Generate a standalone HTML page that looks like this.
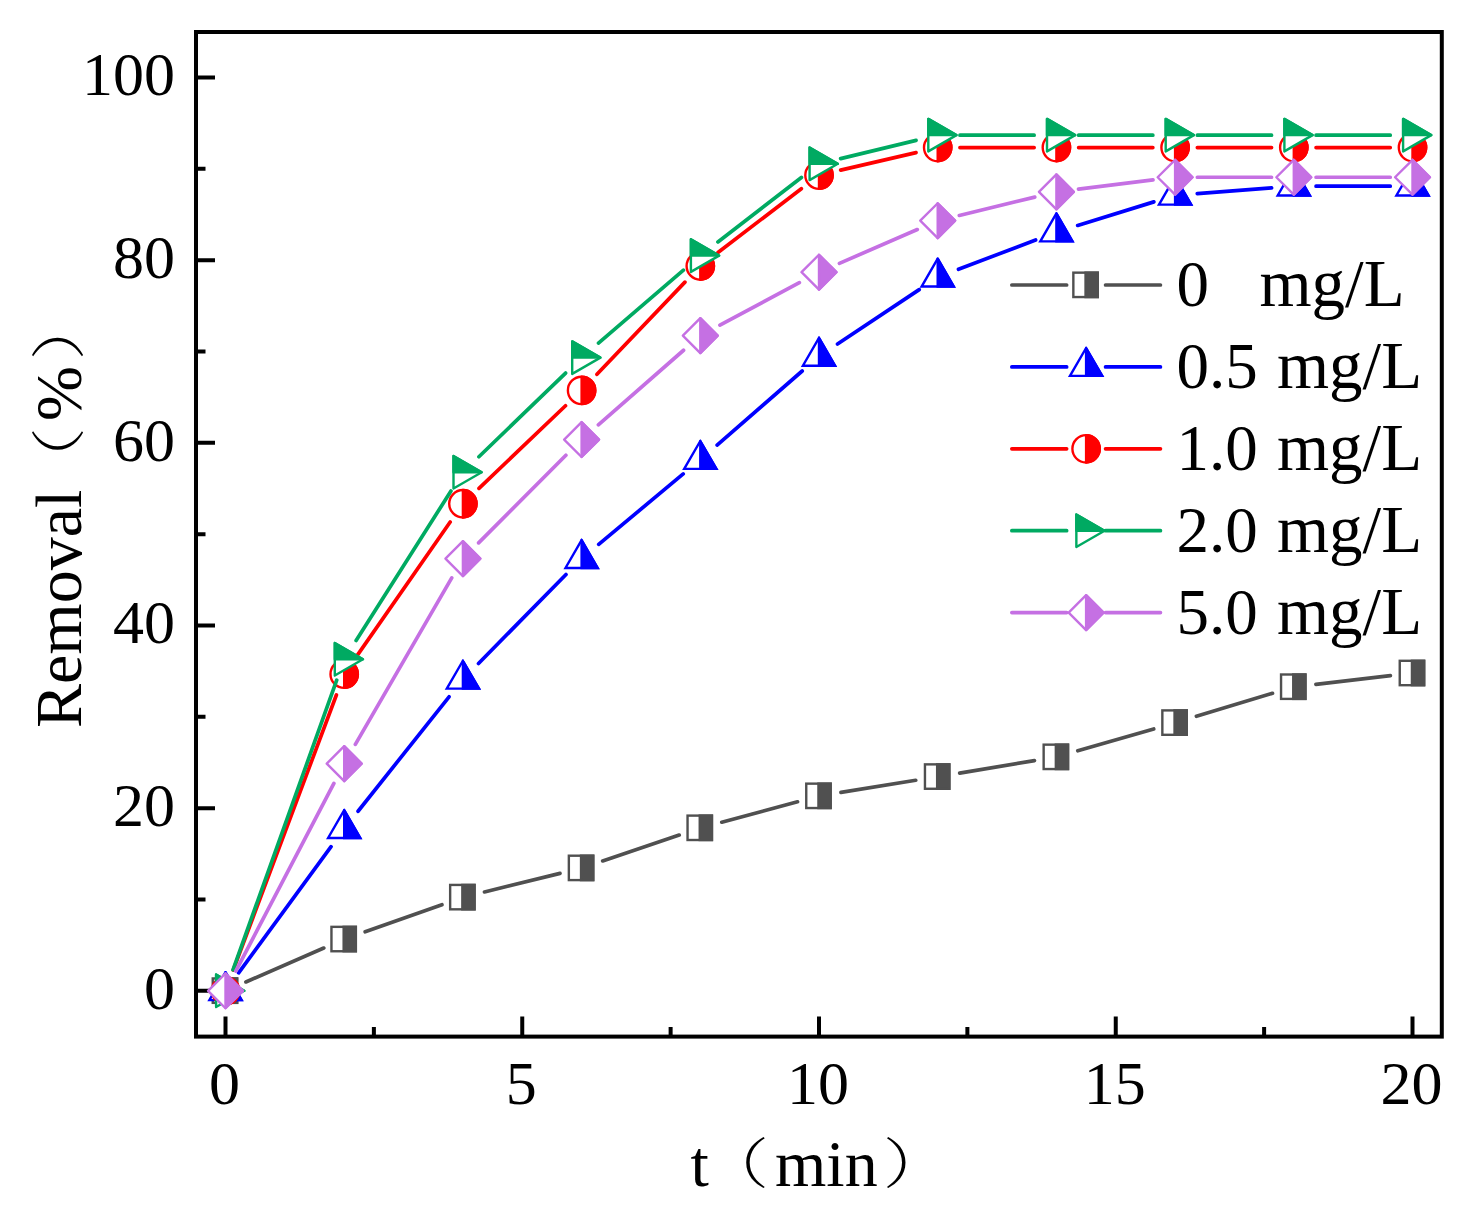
<!DOCTYPE html>
<html><head><meta charset="utf-8"><title>Removal vs t</title>
<style>
html,body{margin:0;padding:0;background:#fff}
svg{display:block}
text{font-family:"Liberation Serif","Noto Serif CJK SC",serif;fill:#000}
.tk{font-size:62px}
.ti{font-size:66px}
.lg{font-size:65px}
.lu{font-size:67px}
.pa{font-size:54.8px;font-family:"Liberation Serif","Noto Serif CJK SC",serif;font-weight:200}
</style></head><body>
<svg width="1479" height="1211" viewBox="0 0 1479 1211">
<rect width="1479" height="1211" fill="#fff"/>
<rect x="196" y="32" width="1245.8" height="1004.6" fill="none" stroke="#000" stroke-width="4"/>
<path d="M196 990.8h19M196 899.47h9.5M196 808.14h19M196 716.81h9.5M196 625.48h19M196 534.15h9.5M196 442.82h19M196 351.49h9.5M196 260.16h19M196 168.83h9.5M196 77.5h19M225.5 1036.6v-20M373.88 1036.6v-9.5M522.25 1036.6v-20M670.62 1036.6v-9.5M819 1036.6v-20M967.38 1036.6v-9.5M1115.75 1036.6v-20M1264.12 1036.6v-9.5M1412.5 1036.6v-20" stroke="#000" stroke-width="4" fill="none"/>
<text class="tk" x="175" y="1008.6" text-anchor="end">0</text>
<text class="tk" x="175" y="825.94" text-anchor="end">20</text>
<text class="tk" x="175" y="643.28" text-anchor="end">40</text>
<text class="tk" x="175" y="460.62" text-anchor="end">60</text>
<text class="tk" x="175" y="277.96" text-anchor="end">80</text>
<text class="tk" x="175" y="95.3" text-anchor="end">100</text>
<text class="tk" x="224.5" y="1104.4" text-anchor="middle">0</text>
<text class="tk" x="521.25" y="1104.4" text-anchor="middle">5</text>
<text class="tk" x="818" y="1104.4" text-anchor="middle">10</text>
<text class="tk" x="1114.75" y="1104.4" text-anchor="middle">15</text>
<text class="tk" x="1411.5" y="1104.4" text-anchor="middle">20</text>
<text class="ti" id="xtitle"><tspan x="690.5" y="1186">t</tspan><tspan class="pa" x="703" y="1183" textLength="66" lengthAdjust="spacingAndGlyphs">（</tspan><tspan x="775" y="1186">min</tspan><tspan class="pa" x="882.7" y="1183" textLength="66" lengthAdjust="spacingAndGlyphs">）</tspan></text>
<text class="ti" id="ytitle" transform="translate(80.5 728) rotate(-90)"><tspan x="0" y="0">Removal</tspan><tspan class="pa" x="235" y="-3" textLength="66" lengthAdjust="spacingAndGlyphs">（</tspan><tspan x="307" y="0">%</tspan><tspan class="pa" x="367.5" y="-3" textLength="66" lengthAdjust="spacingAndGlyphs">）</tspan></text>
<g id="gray"><path d="M245.91 981.93L323.79 948.07M365.18 931.79L441.92 904.69M484.5 891.96L560 873.37M602.68 860.93L679.22 835.08M721.78 822.17L797.52 801.78M840.96 792.43L915.74 780.29M959.65 773.07L1034.45 760.64M1077.78 750.83L1153.72 728.91M1196.4 716.31L1272.5 693.29M1315.9 684.3L1390.4 675.71" stroke="#505050" stroke-width="3.7" stroke-linecap="round" fill="none"/>
<rect x="212.75" y="978.45" width="24.4" height="24.4" fill="#fff" stroke="#505050" stroke-width="2.4"/>
<rect x="224.95" y="978.45" width="12.2" height="24.4" fill="#505050" stroke="#505050" stroke-width="2.4"/>
<rect x="331.45" y="926.85" width="24.4" height="24.4" fill="#fff" stroke="#505050" stroke-width="2.4"/>
<rect x="343.65" y="926.85" width="12.2" height="24.4" fill="#505050" stroke="#505050" stroke-width="2.4"/>
<rect x="450.15" y="884.93" width="24.4" height="24.4" fill="#fff" stroke="#505050" stroke-width="2.4"/>
<rect x="462.35" y="884.93" width="12.2" height="24.4" fill="#505050" stroke="#505050" stroke-width="2.4"/>
<rect x="568.85" y="855.7" width="24.4" height="24.4" fill="#fff" stroke="#505050" stroke-width="2.4"/>
<rect x="581.05" y="855.7" width="12.2" height="24.4" fill="#505050" stroke="#505050" stroke-width="2.4"/>
<rect x="687.55" y="815.61" width="24.4" height="24.4" fill="#fff" stroke="#505050" stroke-width="2.4"/>
<rect x="699.75" y="815.61" width="12.2" height="24.4" fill="#505050" stroke="#505050" stroke-width="2.4"/>
<rect x="806.25" y="783.64" width="24.4" height="24.4" fill="#fff" stroke="#505050" stroke-width="2.4"/>
<rect x="818.45" y="783.64" width="12.2" height="24.4" fill="#505050" stroke="#505050" stroke-width="2.4"/>
<rect x="924.95" y="764.37" width="24.4" height="24.4" fill="#fff" stroke="#505050" stroke-width="2.4"/>
<rect x="937.15" y="764.37" width="12.2" height="24.4" fill="#505050" stroke="#505050" stroke-width="2.4"/>
<rect x="1043.65" y="744.65" width="24.4" height="24.4" fill="#fff" stroke="#505050" stroke-width="2.4"/>
<rect x="1055.85" y="744.65" width="12.2" height="24.4" fill="#505050" stroke="#505050" stroke-width="2.4"/>
<rect x="1162.35" y="710.4" width="24.4" height="24.4" fill="#fff" stroke="#505050" stroke-width="2.4"/>
<rect x="1174.55" y="710.4" width="12.2" height="24.4" fill="#505050" stroke="#505050" stroke-width="2.4"/>
<rect x="1281.05" y="674.5" width="24.4" height="24.4" fill="#fff" stroke="#505050" stroke-width="2.4"/>
<rect x="1293.25" y="674.5" width="12.2" height="24.4" fill="#505050" stroke="#505050" stroke-width="2.4"/>
<rect x="1399.75" y="660.8" width="24.4" height="24.4" fill="#fff" stroke="#505050" stroke-width="2.4"/>
<rect x="1411.95" y="660.8" width="12.2" height="24.4" fill="#505050" stroke="#505050" stroke-width="2.4"/>
</g>
<g id="blue"><path d="M238.64 972.85L331.06 846.64M358.05 811.27L449.05 696.78M478.5 663.5L566 574.49M598.69 544.38L683.21 473.88M717.09 445.03L802.21 371.02M837.51 344.07L919.19 289.59M958.49 269.32L1035.61 239.95M1077.66 225.46L1153.84 201.89M1197.28 193.61L1271.62 187.89M1316.05 186.18L1390.25 186.18" stroke="#0000ff" stroke-width="3.7" stroke-linecap="round" fill="none"/>
<path d="M225.5 972.2L241.61 1000.1L209.39 1000.1L225.5 972.2" fill="#fff" stroke="#0000ff" stroke-width="2.4" stroke-linejoin="miter" stroke-linecap="round"/>
<path d="M225.5 972.2L241.61 1000.1L225.5 1000.1L225.5 972.2" fill="#0000ff" stroke="#0000ff" stroke-width="2.4" stroke-linejoin="miter" stroke-linecap="round"/>
<path d="M344.2 810.09L360.31 837.99L328.09 837.99L344.2 810.09" fill="#fff" stroke="#0000ff" stroke-width="2.4" stroke-linejoin="miter" stroke-linecap="round"/>
<path d="M344.2 810.09L360.31 837.99L344.2 837.99L344.2 810.09" fill="#0000ff" stroke="#0000ff" stroke-width="2.4" stroke-linejoin="miter" stroke-linecap="round"/>
<path d="M462.9 660.76L479.01 688.66L446.79 688.66L462.9 660.76" fill="#fff" stroke="#0000ff" stroke-width="2.4" stroke-linejoin="miter" stroke-linecap="round"/>
<path d="M462.9 660.76L479.01 688.66L462.9 688.66L462.9 660.76" fill="#0000ff" stroke="#0000ff" stroke-width="2.4" stroke-linejoin="miter" stroke-linecap="round"/>
<path d="M581.6 540.03L597.71 567.93L565.49 567.93L581.6 540.03" fill="#fff" stroke="#0000ff" stroke-width="2.4" stroke-linejoin="miter" stroke-linecap="round"/>
<path d="M581.6 540.03L597.71 567.93L581.6 567.93L581.6 540.03" fill="#0000ff" stroke="#0000ff" stroke-width="2.4" stroke-linejoin="miter" stroke-linecap="round"/>
<path d="M700.3 441.02L716.41 468.92L684.19 468.92L700.3 441.02" fill="#fff" stroke="#0000ff" stroke-width="2.4" stroke-linejoin="miter" stroke-linecap="round"/>
<path d="M700.3 441.02L716.41 468.92L700.3 468.92L700.3 441.02" fill="#0000ff" stroke="#0000ff" stroke-width="2.4" stroke-linejoin="miter" stroke-linecap="round"/>
<path d="M819 337.82L835.11 365.72L802.89 365.72L819 337.82" fill="#fff" stroke="#0000ff" stroke-width="2.4" stroke-linejoin="miter" stroke-linecap="round"/>
<path d="M819 337.82L835.11 365.72L819 365.72L819 337.82" fill="#0000ff" stroke="#0000ff" stroke-width="2.4" stroke-linejoin="miter" stroke-linecap="round"/>
<path d="M937.7 258.64L953.81 286.54L921.59 286.54L937.7 258.64" fill="#fff" stroke="#0000ff" stroke-width="2.4" stroke-linejoin="miter" stroke-linecap="round"/>
<path d="M937.7 258.64L953.81 286.54L937.7 286.54L937.7 258.64" fill="#0000ff" stroke="#0000ff" stroke-width="2.4" stroke-linejoin="miter" stroke-linecap="round"/>
<path d="M1056.4 213.43L1072.51 241.33L1040.29 241.33L1056.4 213.43" fill="#fff" stroke="#0000ff" stroke-width="2.4" stroke-linejoin="miter" stroke-linecap="round"/>
<path d="M1056.4 213.43L1072.51 241.33L1056.4 241.33L1056.4 213.43" fill="#0000ff" stroke="#0000ff" stroke-width="2.4" stroke-linejoin="miter" stroke-linecap="round"/>
<path d="M1175.1 176.72L1191.21 204.62L1158.99 204.62L1175.1 176.72" fill="#fff" stroke="#0000ff" stroke-width="2.4" stroke-linejoin="miter" stroke-linecap="round"/>
<path d="M1175.1 176.72L1191.21 204.62L1175.1 204.62L1175.1 176.72" fill="#0000ff" stroke="#0000ff" stroke-width="2.4" stroke-linejoin="miter" stroke-linecap="round"/>
<path d="M1293.8 167.58L1309.91 195.48L1277.69 195.48L1293.8 167.58" fill="#fff" stroke="#0000ff" stroke-width="2.4" stroke-linejoin="miter" stroke-linecap="round"/>
<path d="M1293.8 167.58L1309.91 195.48L1293.8 195.48L1293.8 167.58" fill="#0000ff" stroke="#0000ff" stroke-width="2.4" stroke-linejoin="miter" stroke-linecap="round"/>
<path d="M1412.5 167.58L1428.61 195.48L1396.39 195.48L1412.5 167.58" fill="#fff" stroke="#0000ff" stroke-width="2.4" stroke-linejoin="miter" stroke-linecap="round"/>
<path d="M1412.5 167.58L1428.61 195.48L1412.5 195.48L1412.5 167.58" fill="#0000ff" stroke="#0000ff" stroke-width="2.4" stroke-linejoin="miter" stroke-linecap="round"/>
</g>
<g id="red"><path d="M233.31 969.97L336.39 694.99M356.92 655.9L450.18 521.99M478.99 488.37L565.51 405.76M596.96 374.3L684.94 282.1M717.97 252.49L801.33 188.74M840.67 170.17L916.03 152.6M959.95 147.55L1034.15 147.55M1078.65 147.55L1152.85 147.55M1197.35 147.55L1271.55 147.55M1316.05 147.55L1390.25 147.55" stroke="#ff0000" stroke-width="3.7" stroke-linecap="round" fill="none"/>
<circle cx="225.5" cy="990.8" r="13.7" fill="#fff" stroke="#ff0000" stroke-width="2.4"/>
<path d="M225.5 977.1A13.7 13.7 0 0 1 225.5 1004.5Z" fill="#ff0000" stroke="#ff0000" stroke-width="2.4" stroke-linejoin="round"/>
<circle cx="344.2" cy="674.16" r="13.7" fill="#fff" stroke="#ff0000" stroke-width="2.4"/>
<path d="M344.2 660.46A13.7 13.7 0 0 1 344.2 687.86Z" fill="#ff0000" stroke="#ff0000" stroke-width="2.4" stroke-linejoin="round"/>
<circle cx="462.9" cy="503.74" r="13.7" fill="#fff" stroke="#ff0000" stroke-width="2.4"/>
<path d="M462.9 490.04A13.7 13.7 0 0 1 462.9 517.44Z" fill="#ff0000" stroke="#ff0000" stroke-width="2.4" stroke-linejoin="round"/>
<circle cx="581.6" cy="390.4" r="13.7" fill="#fff" stroke="#ff0000" stroke-width="2.4"/>
<path d="M581.6 376.7A13.7 13.7 0 0 1 581.6 404.1Z" fill="#ff0000" stroke="#ff0000" stroke-width="2.4" stroke-linejoin="round"/>
<circle cx="700.3" cy="266.01" r="13.7" fill="#fff" stroke="#ff0000" stroke-width="2.4"/>
<path d="M700.3 252.31A13.7 13.7 0 0 1 700.3 279.71Z" fill="#ff0000" stroke="#ff0000" stroke-width="2.4" stroke-linejoin="round"/>
<circle cx="819" cy="175.22" r="13.7" fill="#fff" stroke="#ff0000" stroke-width="2.4"/>
<path d="M819 161.52A13.7 13.7 0 0 1 819 188.92Z" fill="#ff0000" stroke="#ff0000" stroke-width="2.4" stroke-linejoin="round"/>
<circle cx="937.7" cy="147.55" r="13.7" fill="#fff" stroke="#ff0000" stroke-width="2.4"/>
<path d="M937.7 133.85A13.7 13.7 0 0 1 937.7 161.25Z" fill="#ff0000" stroke="#ff0000" stroke-width="2.4" stroke-linejoin="round"/>
<circle cx="1056.4" cy="147.55" r="13.7" fill="#fff" stroke="#ff0000" stroke-width="2.4"/>
<path d="M1056.4 133.85A13.7 13.7 0 0 1 1056.4 161.25Z" fill="#ff0000" stroke="#ff0000" stroke-width="2.4" stroke-linejoin="round"/>
<circle cx="1175.1" cy="147.55" r="13.7" fill="#fff" stroke="#ff0000" stroke-width="2.4"/>
<path d="M1175.1 133.85A13.7 13.7 0 0 1 1175.1 161.25Z" fill="#ff0000" stroke="#ff0000" stroke-width="2.4" stroke-linejoin="round"/>
<circle cx="1293.8" cy="147.55" r="13.7" fill="#fff" stroke="#ff0000" stroke-width="2.4"/>
<path d="M1293.8 133.85A13.7 13.7 0 0 1 1293.8 161.25Z" fill="#ff0000" stroke="#ff0000" stroke-width="2.4" stroke-linejoin="round"/>
<circle cx="1412.5" cy="147.55" r="13.7" fill="#fff" stroke="#ff0000" stroke-width="2.4"/>
<path d="M1412.5 133.85A13.7 13.7 0 0 1 1412.5 161.25Z" fill="#ff0000" stroke="#ff0000" stroke-width="2.4" stroke-linejoin="round"/>
</g>
<g id="green"><path d="M233 969.85L336.7 680.22M356.12 640.49L450.98 491.01M478.91 456.77L565.59 373.06M598.47 343.11L683.43 270.1M717.9 241.98L801.4 177.42M840.63 158.58L916.07 140.35M959.95 135.13L1034.15 135.13M1078.65 135.13L1152.85 135.13M1197.35 135.13L1271.55 135.13M1316.05 135.13L1390.25 135.13" stroke="#00aa62" stroke-width="3.7" stroke-linecap="round" fill="none"/>
<path d="M244.3 990.8L216.1 1007.08L216.1 974.52Z" fill="#fff" stroke="#00aa62" stroke-width="2.4" stroke-linejoin="round"/>
<path d="M244.3 990.8L216.1 990.8L216.1 974.52Z" fill="#00aa62" stroke="#00aa62" stroke-width="2.4" stroke-linejoin="round"/>
<path d="M363 659.27L334.8 675.55L334.8 642.99Z" fill="#fff" stroke="#00aa62" stroke-width="2.4" stroke-linejoin="round"/>
<path d="M363 659.27L334.8 659.27L334.8 642.99Z" fill="#00aa62" stroke="#00aa62" stroke-width="2.4" stroke-linejoin="round"/>
<path d="M481.7 472.23L453.5 488.51L453.5 455.95Z" fill="#fff" stroke="#00aa62" stroke-width="2.4" stroke-linejoin="round"/>
<path d="M481.7 472.23L453.5 472.23L453.5 455.95Z" fill="#00aa62" stroke="#00aa62" stroke-width="2.4" stroke-linejoin="round"/>
<path d="M600.4 357.61L572.2 373.89L572.2 341.33Z" fill="#fff" stroke="#00aa62" stroke-width="2.4" stroke-linejoin="round"/>
<path d="M600.4 357.61L572.2 357.61L572.2 341.33Z" fill="#00aa62" stroke="#00aa62" stroke-width="2.4" stroke-linejoin="round"/>
<path d="M719.1 255.59L690.9 271.87L690.9 239.31Z" fill="#fff" stroke="#00aa62" stroke-width="2.4" stroke-linejoin="round"/>
<path d="M719.1 255.59L690.9 255.59L690.9 239.31Z" fill="#00aa62" stroke="#00aa62" stroke-width="2.4" stroke-linejoin="round"/>
<path d="M837.8 163.81L809.6 180.09L809.6 147.53Z" fill="#fff" stroke="#00aa62" stroke-width="2.4" stroke-linejoin="round"/>
<path d="M837.8 163.81L809.6 163.81L809.6 147.53Z" fill="#00aa62" stroke="#00aa62" stroke-width="2.4" stroke-linejoin="round"/>
<path d="M956.5 135.13L928.3 151.41L928.3 118.85Z" fill="#fff" stroke="#00aa62" stroke-width="2.4" stroke-linejoin="round"/>
<path d="M956.5 135.13L928.3 135.13L928.3 118.85Z" fill="#00aa62" stroke="#00aa62" stroke-width="2.4" stroke-linejoin="round"/>
<path d="M1075.2 135.13L1047 151.41L1047 118.85Z" fill="#fff" stroke="#00aa62" stroke-width="2.4" stroke-linejoin="round"/>
<path d="M1075.2 135.13L1047 135.13L1047 118.85Z" fill="#00aa62" stroke="#00aa62" stroke-width="2.4" stroke-linejoin="round"/>
<path d="M1193.9 135.13L1165.7 151.41L1165.7 118.85Z" fill="#fff" stroke="#00aa62" stroke-width="2.4" stroke-linejoin="round"/>
<path d="M1193.9 135.13L1165.7 135.13L1165.7 118.85Z" fill="#00aa62" stroke="#00aa62" stroke-width="2.4" stroke-linejoin="round"/>
<path d="M1312.6 135.13L1284.4 151.41L1284.4 118.85Z" fill="#fff" stroke="#00aa62" stroke-width="2.4" stroke-linejoin="round"/>
<path d="M1312.6 135.13L1284.4 135.13L1284.4 118.85Z" fill="#00aa62" stroke="#00aa62" stroke-width="2.4" stroke-linejoin="round"/>
<path d="M1431.3 135.13L1403.1 151.41L1403.1 118.85Z" fill="#fff" stroke="#00aa62" stroke-width="2.4" stroke-linejoin="round"/>
<path d="M1431.3 135.13L1403.1 135.13L1403.1 118.85Z" fill="#00aa62" stroke="#00aa62" stroke-width="2.4" stroke-linejoin="round"/>
</g>
<g id="purple"><path d="M235.81 971.08L333.89 783.38M355.35 744.41L451.75 577.88M478.61 542.87L565.89 455.29M598.34 424.87L683.56 350.26M719.93 325.12L799.37 282.7M839.41 263.36L917.29 229.56M959.32 215.45L1034.78 197.1M1078.48 189.13L1153.02 179.95M1197.35 177.23L1271.55 177.23M1316.05 177.23L1390.25 177.23" stroke="#c570e3" stroke-width="3.7" stroke-linecap="round" fill="none"/>
<path d="M225.5 973.35L242.95 990.8L225.5 1008.25L208.05 990.8Z" fill="#fff" stroke="#c570e3" stroke-width="2.4" stroke-linejoin="round"/>
<path d="M225.5 973.35L242.95 990.8L225.5 1008.25Z" fill="#c570e3" stroke="#c570e3" stroke-width="2.4" stroke-linejoin="round"/>
<path d="M344.2 746.21L361.65 763.66L344.2 781.11L326.75 763.66Z" fill="#fff" stroke="#c570e3" stroke-width="2.4" stroke-linejoin="round"/>
<path d="M344.2 746.21L361.65 763.66L344.2 781.11Z" fill="#c570e3" stroke="#c570e3" stroke-width="2.4" stroke-linejoin="round"/>
<path d="M462.9 541.18L480.35 558.63L462.9 576.08L445.45 558.63Z" fill="#fff" stroke="#c570e3" stroke-width="2.4" stroke-linejoin="round"/>
<path d="M462.9 541.18L480.35 558.63L462.9 576.08Z" fill="#c570e3" stroke="#c570e3" stroke-width="2.4" stroke-linejoin="round"/>
<path d="M581.6 422.08L599.05 439.53L581.6 456.98L564.15 439.53Z" fill="#fff" stroke="#c570e3" stroke-width="2.4" stroke-linejoin="round"/>
<path d="M581.6 422.08L599.05 439.53L581.6 456.98Z" fill="#c570e3" stroke="#c570e3" stroke-width="2.4" stroke-linejoin="round"/>
<path d="M700.3 318.15L717.75 335.6L700.3 353.05L682.85 335.6Z" fill="#fff" stroke="#c570e3" stroke-width="2.4" stroke-linejoin="round"/>
<path d="M700.3 318.15L717.75 335.6L700.3 353.05Z" fill="#c570e3" stroke="#c570e3" stroke-width="2.4" stroke-linejoin="round"/>
<path d="M819 254.77L836.45 272.22L819 289.67L801.55 272.22Z" fill="#fff" stroke="#c570e3" stroke-width="2.4" stroke-linejoin="round"/>
<path d="M819 254.77L836.45 272.22L819 289.67Z" fill="#c570e3" stroke="#c570e3" stroke-width="2.4" stroke-linejoin="round"/>
<path d="M937.7 203.26L955.15 220.71L937.7 238.16L920.25 220.71Z" fill="#fff" stroke="#c570e3" stroke-width="2.4" stroke-linejoin="round"/>
<path d="M937.7 203.26L955.15 220.71L937.7 238.16Z" fill="#c570e3" stroke="#c570e3" stroke-width="2.4" stroke-linejoin="round"/>
<path d="M1056.4 174.4L1073.85 191.85L1056.4 209.3L1038.95 191.85Z" fill="#fff" stroke="#c570e3" stroke-width="2.4" stroke-linejoin="round"/>
<path d="M1056.4 174.4L1073.85 191.85L1056.4 209.3Z" fill="#c570e3" stroke="#c570e3" stroke-width="2.4" stroke-linejoin="round"/>
<path d="M1175.1 159.78L1192.55 177.23L1175.1 194.68L1157.65 177.23Z" fill="#fff" stroke="#c570e3" stroke-width="2.4" stroke-linejoin="round"/>
<path d="M1175.1 159.78L1192.55 177.23L1175.1 194.68Z" fill="#c570e3" stroke="#c570e3" stroke-width="2.4" stroke-linejoin="round"/>
<path d="M1293.8 159.78L1311.25 177.23L1293.8 194.68L1276.35 177.23Z" fill="#fff" stroke="#c570e3" stroke-width="2.4" stroke-linejoin="round"/>
<path d="M1293.8 159.78L1311.25 177.23L1293.8 194.68Z" fill="#c570e3" stroke="#c570e3" stroke-width="2.4" stroke-linejoin="round"/>
<path d="M1412.5 159.78L1429.95 177.23L1412.5 194.68L1395.05 177.23Z" fill="#fff" stroke="#c570e3" stroke-width="2.4" stroke-linejoin="round"/>
<path d="M1412.5 159.78L1429.95 177.23L1412.5 194.68Z" fill="#c570e3" stroke="#c570e3" stroke-width="2.4" stroke-linejoin="round"/>
</g>
<path d="M1011.85 285H1066.65M1105.55 285H1160.45" stroke="#505050" stroke-width="3.7" stroke-linecap="round" fill="none"/>
<rect x="1073.35" y="272.65" width="24.4" height="24.4" fill="#fff" stroke="#505050" stroke-width="2.4"/>
<rect x="1085.55" y="272.65" width="12.2" height="24.4" fill="#505050" stroke="#505050" stroke-width="2.4"/>
<text y="306.4"><tspan class="lg" x="1176.5">0 </tspan><tspan class="lu" x="1259.5">mg/L</tspan></text>
<path d="M1011.85 366.9H1066.65M1105.55 366.9H1160.45" stroke="#0000ff" stroke-width="3.7" stroke-linecap="round" fill="none"/>
<path d="M1086.1 348L1102.21 375.9L1069.99 375.9L1086.1 348" fill="#fff" stroke="#0000ff" stroke-width="2.4" stroke-linejoin="miter" stroke-linecap="round"/>
<path d="M1086.1 348L1102.21 375.9L1086.1 375.9L1086.1 348" fill="#0000ff" stroke="#0000ff" stroke-width="2.4" stroke-linejoin="miter" stroke-linecap="round"/>
<text y="388.3"><tspan class="lg" x="1176.5">0.5 </tspan><tspan class="lu" x="1277">mg/L</tspan></text>
<path d="M1011.85 448.8H1066.65M1105.55 448.8H1160.45" stroke="#ff0000" stroke-width="3.7" stroke-linecap="round" fill="none"/>
<circle cx="1086.1" cy="448.8" r="13.7" fill="#fff" stroke="#ff0000" stroke-width="2.4"/>
<path d="M1086.1 435.1A13.7 13.7 0 0 1 1086.1 462.5Z" fill="#ff0000" stroke="#ff0000" stroke-width="2.4" stroke-linejoin="round"/>
<text y="470.2"><tspan class="lg" x="1176.5">1.0 </tspan><tspan class="lu" x="1277">mg/L</tspan></text>
<path d="M1011.85 530.7H1066.65M1105.55 530.7H1160.45" stroke="#00aa62" stroke-width="3.7" stroke-linecap="round" fill="none"/>
<path d="M1104.55 530.7L1076.35 546.98L1076.35 514.42Z" fill="#fff" stroke="#00aa62" stroke-width="2.4" stroke-linejoin="round"/>
<path d="M1104.55 530.7L1076.35 530.7L1076.35 514.42Z" fill="#00aa62" stroke="#00aa62" stroke-width="2.4" stroke-linejoin="round"/>
<text y="552.1"><tspan class="lg" x="1176.5">2.0 </tspan><tspan class="lu" x="1277">mg/L</tspan></text>
<path d="M1011.85 612.6H1066.65M1105.55 612.6H1160.45" stroke="#c570e3" stroke-width="3.7" stroke-linecap="round" fill="none"/>
<path d="M1086.1 595.15L1103.55 612.6L1086.1 630.05L1068.65 612.6Z" fill="#fff" stroke="#c570e3" stroke-width="2.4" stroke-linejoin="round"/>
<path d="M1086.1 595.15L1103.55 612.6L1086.1 630.05Z" fill="#c570e3" stroke="#c570e3" stroke-width="2.4" stroke-linejoin="round"/>
<text y="634"><tspan class="lg" x="1176.5">5.0 </tspan><tspan class="lu" x="1277">mg/L</tspan></text>
</svg></body></html>
